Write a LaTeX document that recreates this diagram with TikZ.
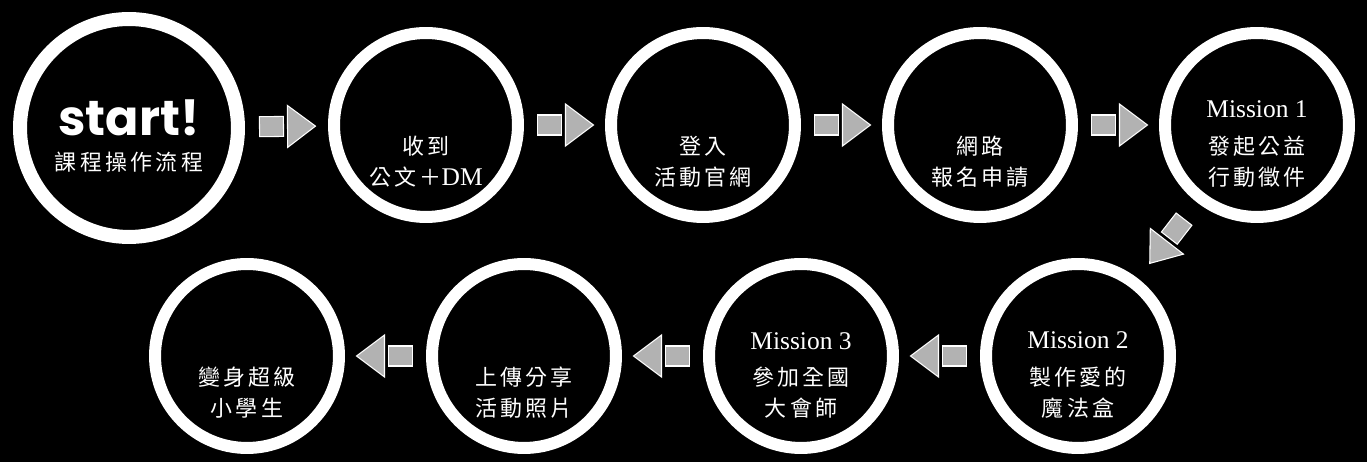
\documentclass[tikz,border=0pt]{standalone}
\usepackage{fontspec}
\setmainfont{Liberation Serif}
\newfontfamily\cjkfont[LetterSpace=15]{Noto Sans CJK TC}
\newfontfamily\startfont{Poppins}

\colorlet{arrowgray}{gray!60!white}

\tikzset{
  ring/.style={circle,draw=white,line width=0.24cm,minimum size=3.68cm,inner sep=0pt},
  bigring/.style={ring,line width=0.28cm,minimum size=4.36cm},
  steptext/.style={text=white,align=center,inner sep=0pt,
    font=\cjkfont\fontsize{12.5}{17.6}\selectfont},
  stepgo/.pic={
    \filldraw[arrowgray,draw=white,line width=0.6pt] (-27,-10) rectangle (-3,10);
    \filldraw[arrowgray,draw=white,line width=0.6pt] (1,-21) -- (29,0) -- (1,21) -- cycle;
  }
}
\newcommand{\mission}[1]{{\rmfamily\fontsize{14.5}{17.6}\selectfont Mission #1}\\[3pt]}

\begin{document}
\begin{tikzpicture}[x=0.02cm,y=0.02cm]
 \fill[black] (0,0) rectangle (1367,462);
 \useasboundingbox (0,0) rectangle (1367,462);
 \path
 (129,334)   node[bigring] (s0) {}
 ++(297,3)   node[ring] (s1) {}
 ++(277,0)   node[ring] (s2) {}
 ++(277,0)   node[ring] (s3) {}
 ++(277,0)   node[ring] (s4) {}
 ++(-179,-231) node[ring] (s5) {}
 ++(-277,0)  node[ring] (s6) {}
 ++(-277,0)  node[ring] (s7) {}
 ++(-277,0)  node[ring] (s8) {}
 ;
 % texts
 \path (s0) ++(0,-8) node[steptext] (t0)
   {{\startfont\bfseries\fontsize{28}{30}\selectfont start!}\\[2pt]課程操作流程};
 \path (s1) ++(0,-37) node[steptext] (t1) {收到\\公文＋{\rmfamily\fontsize{14.5}{17.6}\selectfont DM}};
 \path (s2) ++(0,-37) node[steptext] (t2) {登入\\活動官網};
 \path (s3) ++(0,-37) node[steptext] (t3) {網路\\報名申請};
 \path (s4) ++(0,-19) node[steptext] (t4) {\mission{1}發起公益\\行動徵件};
 \path (s5) ++(0,-19) node[steptext] (t5) {\mission{2}製作愛的\\魔法盒};
 \path (s6) ++(0,-19) node[steptext] (t6) {\mission{3}參加全國\\大會師};
 \path (s7) ++(0,-37) node[steptext] (t7) {上傳分享\\活動照片};
 \path (s8) ++(0,-37) node[steptext] (t8) {變身超級\\小學生};
 % arrows
 \path[allow upside down]
 (s0) -- (s1) pic[pos=.5,sloped]{stepgo}
 (s1) -- (s2) pic[pos=.5,sloped]{stepgo}
 (s2) -- (s3) pic[pos=.5,sloped]{stepgo}
 (s3) -- (s4) pic[pos=.5,sloped]{stepgo}
 (s4) -- (s5) pic[pos=.5,sloped]{stepgo}
 (s5) -- (s6) pic[pos=.5,sloped]{stepgo}
 (s6) -- (s7) pic[pos=.5,sloped]{stepgo}
 (s7) -- (s8) pic[pos=.5,sloped]{stepgo}
 ;
\end{tikzpicture}
\end{document}
